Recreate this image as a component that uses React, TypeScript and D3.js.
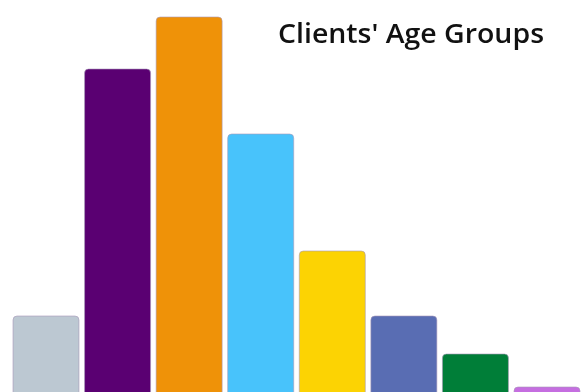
import React from "react";
import * as d3 from "d3";

const categories = ["0-17", "18-24", "25-34", "35-44", "45-54", "55-64", "65-74", "75+"];
const values = [94, 341, 393, 276, 159, 94, 56, 23];
const colors = ["#bcc8d2", "#5a0072", "#ef9208", "#48c3fb", "#fcd303", "#596db3", "#007e38", "#c56ee0"];
const title = "Clients' Age Groups";

const W = 584;
const H = 392;

export default function App() {
  const x = d3.scaleBand<string>().domain(categories).range([13, 580]).paddingInner(0.078).paddingOuter(0);
  const y = d3.scaleLinear().domain([0, 393]).range([410, 17]);
  return (
    <svg width={W} height={H} style={{ position: "fixed", left: 0, top: 0 }}>
      {categories.map((c, i) => (
        <rect
          key={c}
          x={x(c)}
          y={y(values[i])}
          width={x.bandwidth()}
          height={y(0) - y(values[i])}
          rx={4}
          fill={colors[i]}
          stroke="#a899b8"
          strokeWidth={0.6}
        />
      ))}
      <text
        x={544}
        y={43}
        textAnchor="end"
        fontFamily="Open Sans"
        fontWeight={600}
        fontSize={27}
        fill="#111"
        textLength={266}
        lengthAdjust="spacingAndGlyphs"
      >
        {title}
      </text>
    </svg>
  );
}
